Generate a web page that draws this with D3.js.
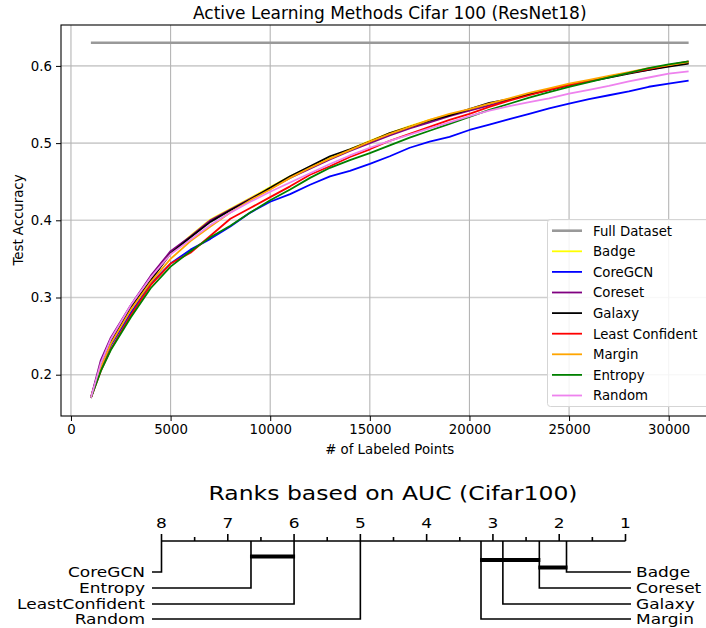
<!DOCTYPE html>
<html>
<head>
<meta charset="utf-8">
<script src="https://cdn.jsdelivr.net/npm/d3@7"></script>
<style>
  body { margin: 0; background: #fff; }
  svg { display: block; font-family: "DejaVu Sans", sans-serif; }
</style>
</head>
<body>
<script>
// labeled points (x values)
var xs = [1000, 1500, 2000, 3000, 4000, 5000, 6000, 7000, 8000, 9000, 10000,
  11000, 12000, 13000, 14000, 15000, 16000, 17000, 18000, 19000, 20000,
  21000, 22000, 23000, 24000, 25000, 26000, 27000, 28000, 29000, 30000, 31000];

var fullX = [1000, 31000];
var fullDataset = [0.63, 0.63];

var badge = [0.170, 0.214, 0.243, 0.288, 0.323, 0.357, 0.380, 0.401, 0.415, 0.429, 0.443,
  0.457, 0.469, 0.481, 0.492, 0.503, 0.513, 0.522, 0.530, 0.537, 0.543,
  0.550, 0.557, 0.564, 0.570, 0.576, 0.581, 0.586, 0.591, 0.596, 0.601, 0.605];
var coreGCN = [0.170, 0.208, 0.238, 0.280, 0.318, 0.344, 0.362, 0.376, 0.392, 0.410, 0.424,
  0.434, 0.446, 0.457, 0.464, 0.473, 0.483, 0.494, 0.502, 0.508, 0.517,
  0.524, 0.531, 0.538, 0.545, 0.551, 0.557, 0.562, 0.567, 0.573, 0.577, 0.581];
var coreset = [0.170, 0.219, 0.248, 0.290, 0.328, 0.360, 0.379, 0.400, 0.414, 0.428, 0.441,
  0.455, 0.467, 0.479, 0.490, 0.500, 0.510, 0.519, 0.527, 0.535, 0.542,
  0.549, 0.556, 0.563, 0.569, 0.575, 0.580, 0.586, 0.591, 0.595, 0.600, 0.604];
var galaxy = [0.170, 0.214, 0.243, 0.287, 0.322, 0.357, 0.378, 0.398, 0.413, 0.427, 0.442,
  0.457, 0.470, 0.483, 0.492, 0.502, 0.513, 0.521, 0.529, 0.536, 0.544,
  0.552, 0.557, 0.563, 0.569, 0.575, 0.580, 0.585, 0.590, 0.595, 0.599, 0.603];
var leastConfident = [0.170, 0.205, 0.233, 0.277, 0.316, 0.344, 0.358, 0.380, 0.402, 0.416, 0.430,
  0.444, 0.459, 0.470, 0.482, 0.492, 0.503, 0.512, 0.521, 0.530, 0.538,
  0.547, 0.555, 0.562, 0.569, 0.575, 0.580, 0.586, 0.591, 0.596, 0.601, 0.606];
var margin = [0.170, 0.210, 0.240, 0.284, 0.320, 0.350, 0.373, 0.392, 0.410, 0.426, 0.440,
  0.455, 0.468, 0.480, 0.491, 0.502, 0.512, 0.521, 0.530, 0.538, 0.544,
  0.551, 0.558, 0.565, 0.571, 0.577, 0.582, 0.587, 0.592, 0.597, 0.601, 0.605];
var entropy = [0.170, 0.205, 0.232, 0.274, 0.312, 0.340, 0.360, 0.378, 0.393, 0.410, 0.426,
  0.440, 0.455, 0.468, 0.478, 0.487, 0.497, 0.507, 0.516, 0.525, 0.534,
  0.543, 0.551, 0.559, 0.566, 0.573, 0.579, 0.585, 0.591, 0.597, 0.602, 0.606];
var random = [0.170, 0.215, 0.246, 0.290, 0.326, 0.356, 0.375, 0.394, 0.410, 0.424, 0.437,
  0.449, 0.461, 0.473, 0.484, 0.494, 0.503, 0.511, 0.519, 0.527, 0.535,
  0.542, 0.548, 0.553, 0.558, 0.564, 0.569, 0.574, 0.580, 0.585, 0.590, 0.593];

var seriesNames = ["Badge", "CoreGCN", "Coreset", "Galaxy", "Least Confident", "Margin", "Entropy", "Random"];
var seriesValues = [badge, coreGCN, coreset, galaxy, leastConfident, margin, entropy, random];
var seriesColors = ["yellow", "blue", "purple", "black", "red", "orange", "green", "violet"];

var xTicks = [0, 5000, 10000, 15000, 20000, 25000, 30000];
var yTicks = [0.2, 0.3, 0.4, 0.5, 0.6];

// critical difference diagram
var cdNames = ["CoreGCN", "Entropy", "LeastConfident", "Random", "Badge", "Coreset", "Galaxy", "Margin"];
var cdRanks = [8.0, 6.65, 6.0, 5.0, 1.89, 2.3, 2.85, 3.18];
var cdTicks = [8, 7, 6, 5, 4, 3, 2, 1];
var cliques = [["Entropy", "LeastConfident"], ["Margin", "Coreset"], ["Coreset", "Badge"]];

var W = 706, H = 628;
var svg = d3.select("body").append("svg").attr("width", W).attr("height", H);

// ---------- line chart ----------
var pL = 61, pR = 718.5, pT = 25, pB = 416;
var x = d3.scaleLinear().domain([-500, 32500]).range([pL, pR]);
var y = d3.scaleLinear().domain([0.1465, 0.653]).range([pB, pT]);

svg.append("defs").append("clipPath").attr("id", "plotclip")
  .append("rect").attr("x", pL).attr("y", pT)
  .attr("width", pR - pL).attr("height", pB - pT);

// grid
svg.append("g").selectAll("line").data(yTicks).enter().append("line")
  .attr("x1", pL).attr("x2", pR)
  .attr("y1", function(d) { return y(d); }).attr("y2", function(d) { return y(d); })
  .attr("stroke", "#cfcfcf").attr("stroke-width", 1.6);
svg.append("g").selectAll("line").data(xTicks).enter().append("line")
  .attr("y1", pT).attr("y2", pB)
  .attr("x1", function(d) { return x(d); }).attr("x2", function(d) { return x(d); })
  .attr("stroke", "#b5b5b5").attr("stroke-width", 1.1);

var line = d3.line()
  .x(function(d) { return x(d[0]); })
  .y(function(d) { return y(d[1]); });

var plot = svg.append("g").attr("clip-path", "url(#plotclip)");

plot.append("path")
  .attr("d", line(d3.zip(fullX, fullDataset)))
  .attr("fill", "none").attr("stroke", "#999").attr("stroke-width", 2.6);

seriesValues.forEach(function(vals, i) {
  plot.append("path")
    .attr("d", line(d3.zip(xs, vals)))
    .attr("fill", "none")
    .attr("stroke", seriesColors[i])
    .attr("stroke-width", 1.8)
    .attr("stroke-linejoin", "round");
});

// axes
var xAxis = d3.axisBottom(x).tickValues(xTicks).tickSize(5).tickPadding(4).tickFormat(d3.format("d"));
var yAxis = d3.axisLeft(y).tickValues(yTicks).tickSize(5).tickPadding(4).tickFormat(d3.format(".1f"));

var gx = svg.append("g").attr("transform", "translate(0," + pB + ")").call(xAxis);
var gy = svg.append("g").attr("transform", "translate(" + pL + ",0)").call(yAxis);
[gx, gy].forEach(function(g) {
  g.select(".domain").remove();
  g.selectAll("line").attr("stroke", "#000").attr("stroke-width", 1);
  g.selectAll("text").attr("font-size", 13.3).attr("fill", "#000").attr("font-family", "DejaVu Sans");
});

// spines
svg.append("rect").attr("x", pL).attr("y", pT)
  .attr("width", pR - pL).attr("height", pB - pT)
  .attr("fill", "none").attr("stroke", "#000").attr("stroke-width", 1.1);

svg.append("text").attr("x", (pL + pR) / 2).attr("y", 19)
  .attr("text-anchor", "middle").attr("font-size", 17)
  .text("Active Learning Methods Cifar 100 (ResNet18)");
svg.append("text").attr("x", (pL + pR) / 2).attr("y", 454)
  .attr("text-anchor", "middle").attr("font-size", 13.3)
  .text("# of Labeled Points");
svg.append("text").attr("transform", "translate(23,220) rotate(-90)")
  .attr("text-anchor", "middle").attr("font-size", 13.3)
  .text("Test Accuracy");

// legend
var legNames = ["Full Dataset"].concat(seriesNames);
var legColors = ["#999"].concat(seriesColors);
var leg = svg.append("g");
leg.append("rect").attr("x", 547.5).attr("y", 219.5).attr("width", 170).attr("height", 187)
  .attr("rx", 3).attr("fill", "#fff").attr("fill-opacity", 0.85)
  .attr("stroke", "#d5d5d5").attr("stroke-width", 1);
legNames.forEach(function(n, i) {
  var yy = 230.7 + i * 20.6;
  leg.append("line").attr("x1", 552).attr("x2", 582).attr("y1", yy).attr("y2", yy)
    .attr("stroke", legColors[i]).attr("stroke-width", i === 0 ? 2.6 : 1.8);
  leg.append("text").attr("x", 593).attr("y", yy + 4.8).attr("font-size", 13.3).text(n);
});

// ---------- CD diagram ----------
var r = d3.scaleLinear().domain([8, 1]).range([161.5, 625.5]);
var axisY = 541;
var sy = 0.85; // text in this panel looks vertically squashed
var cd = svg.append("g");

function cdText(tx, ty, str, size, anchor) {
  cd.append("text")
    .attr("transform", "translate(" + tx + "," + ty + ") scale(1," + sy + ")")
    .attr("text-anchor", anchor).attr("font-size", size).text(str);
}

cdText(393, 500, "Ranks based on AUC (Cifar100)", 23.5, "middle");
cd.append("line").attr("x1", r(8)).attr("x2", r(1)).attr("y1", axisY).attr("y2", axisY)
  .attr("stroke", "#000").attr("stroke-width", 1.6);
d3.range(8, 0.9, -0.5).forEach(function(t) {
  var major = Number.isInteger(t);
  cd.append("line").attr("x1", r(t)).attr("x2", r(t))
    .attr("y1", axisY).attr("y2", axisY - (major ? 7 : 4))
    .attr("stroke", "#000").attr("stroke-width", 1.6);
});
cdTicks.forEach(function(t) {
  cdText(r(t), 528, t, 17, "middle");
});

var rowY = [572, 588, 604, 619];
cdNames.forEach(function(n, i) {
  var rx = r(cdRanks[i]);
  var leftSide = i < 4;
  var yy = rowY[i % 4];
  var endX = leftSide ? 152 : 631;
  cd.append("path")
    .attr("d", "M" + rx + "," + axisY + "V" + yy + "H" + endX)
    .attr("fill", "none").attr("stroke", "#000").attr("stroke-width", 1.6);
  cdText(leftSide ? 145 : 636, yy + 5, n, 17, leftSide ? "end" : "start");
});

var cliqueY = [556.5, 560, 567.5];
cliques.forEach(function(c, i) {
  var a = r(cdRanks[cdNames.indexOf(c[0])]);
  var b = r(cdRanks[cdNames.indexOf(c[1])]);
  cd.append("line").attr("x1", Math.min(a, b) - 1).attr("x2", Math.max(a, b) + 1)
    .attr("y1", cliqueY[i]).attr("y2", cliqueY[i])
    .attr("stroke", "#000").attr("stroke-width", 4);
});
</script>
</body>
</html>
